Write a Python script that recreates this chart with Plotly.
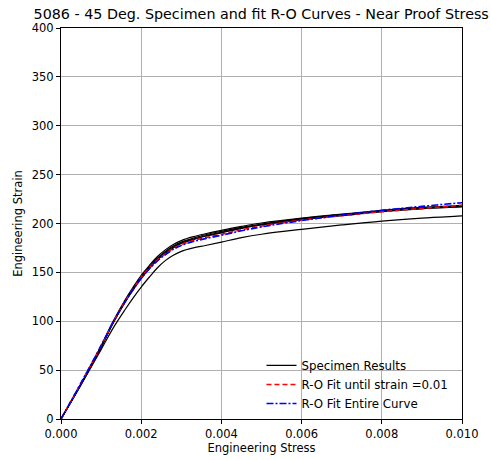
import plotly.graph_objects as go

# strain values (x) at which curves are read
strain = [0.0, 0.0005, 0.001, 0.0013, 0.0016, 0.0018, 0.002, 0.0022, 0.0024, 0.0026, 0.0028,
          0.003, 0.0033, 0.0036, 0.004, 0.0045, 0.005, 0.006, 0.007, 0.008, 0.009, 0.010, 0.0102]

spec_a = [0, 36, 75, 100, 122, 135, 147, 157, 166, 173, 178.5, 182.5, 186.5, 189.5, 193, 197, 200.5, 205.5, 209.5, 213.5, 216.5, 218.5, 219]
spec_b = [0, 35.5, 74, 99, 121, 134, 145.5, 155.5, 164.5, 171.5, 177, 181, 185, 188.5, 192, 196, 199.5, 205, 209, 213, 216, 218, 218.5]
spec_c = [0, 36, 74, 98.5, 120, 133, 144.5, 154.5, 163.5, 170.5, 176, 180, 184, 187.5, 191, 195.5, 199, 204.5, 208.5, 212.5, 215.5, 217.5, 218]
spec_d = [0, 35, 73, 98, 119.5, 132, 143.5, 153.5, 162.5, 169.5, 175, 179.5, 183.5, 187, 190.5, 195, 198.5, 204, 208, 212, 215, 217, 217.5]
spec_e = [0, 35, 71, 93, 112, 124, 135, 145, 154.5, 162, 167.5, 171.5, 175, 177.5, 181, 185.5, 189, 194, 198.5, 202.5, 205.5, 207.7, 208.2]

ro_until = [0, 37, 75, 99, 120.5, 133, 145, 154.5, 162.5, 169, 174.5, 178.5, 182.5, 185.5, 189, 193.5, 197.5, 203.5, 208, 212, 215.5, 218.6, 219.2]
ro_entire = [0, 37, 75, 99, 120, 132.5, 144, 153.5, 161.5, 168, 173.5, 177.5, 181.5, 184.5, 188, 192.5, 196.5, 203, 208.5, 213.5, 217.5, 221.3, 222]

x_ticks = [0.000, 0.002, 0.004, 0.006, 0.008, 0.010]
x_tick_labels = ["0.000", "0.002", "0.004", "0.006", "0.008", "0.010"]
y_ticks = [0, 50, 100, 150, 200, 250, 300, 350, 400]

FONT = "DejaVu Sans"

fig = go.Figure()
specs = [spec_a, spec_b, spec_c, spec_d, spec_e]
for i, s in enumerate(specs):
    fig.add_trace(go.Scatter(
        x=strain, y=s, mode="lines", name="Specimen Results",
        line=dict(color="black", width=1.2, shape="spline", smoothing=1.0),
        showlegend=(i == 0), legendrank=1))

fig.add_trace(go.Scatter(
    x=strain, y=ro_until, mode="lines", name="R-O Fit until strain =0.01",
    line=dict(color="red", width=1.6, dash="5px,3px", shape="spline", smoothing=1.0),
    legendrank=2))
fig.add_trace(go.Scatter(
    x=strain, y=ro_entire, mode="lines", name="R-O Fit Entire Curve",
    line=dict(color="blue", width=1.6, dash="7px,2px,2px,2px", shape="spline", smoothing=1.0),
    legendrank=3))

axis_common = dict(
    showline=True, linecolor="black", linewidth=1, mirror=True,
    ticks="outside", ticklen=4, tickcolor="black", tickwidth=1,
    showgrid=True, gridcolor="#b0b0b0", gridwidth=1,
    zeroline=False, automargin=False,
    tickfont=dict(family=FONT, size=11.5, color="black"),
)

fig.update_layout(
    width=491, height=460,
    margin=dict(l=61, r=29, t=28, b=41),
    paper_bgcolor="white", plot_bgcolor="white",
    title=dict(text="5086 - 45 Deg. Specimen and fit R-O Curves - Near Proof Stress",
               x=0.532, xanchor="center", y=0.97, yanchor="middle",
               font=dict(family=FONT, size=14.3, color="black")),
    xaxis=dict(range=[0, 0.010], tickvals=x_ticks, ticktext=x_tick_labels,
               title=dict(text="Engineering Stress", font=dict(family=FONT, size=11.5, color="black"),
                          standoff=4),
               **axis_common),
    yaxis=dict(range=[0, 400], tickvals=y_ticks,
               title=dict(text="Engineering Strain", font=dict(family=FONT, size=11.5, color="black"),
                          standoff=6),
               **axis_common),
    legend=dict(x=0.5, y=0.174, xanchor="left", yanchor="top",
                bgcolor="rgba(0,0,0,0)", borderwidth=0,
                font=dict(family=FONT, size=11.8, color="black"),
                tracegroupgap=0),
    showlegend=True,
)

fig.write_html("out.html")
